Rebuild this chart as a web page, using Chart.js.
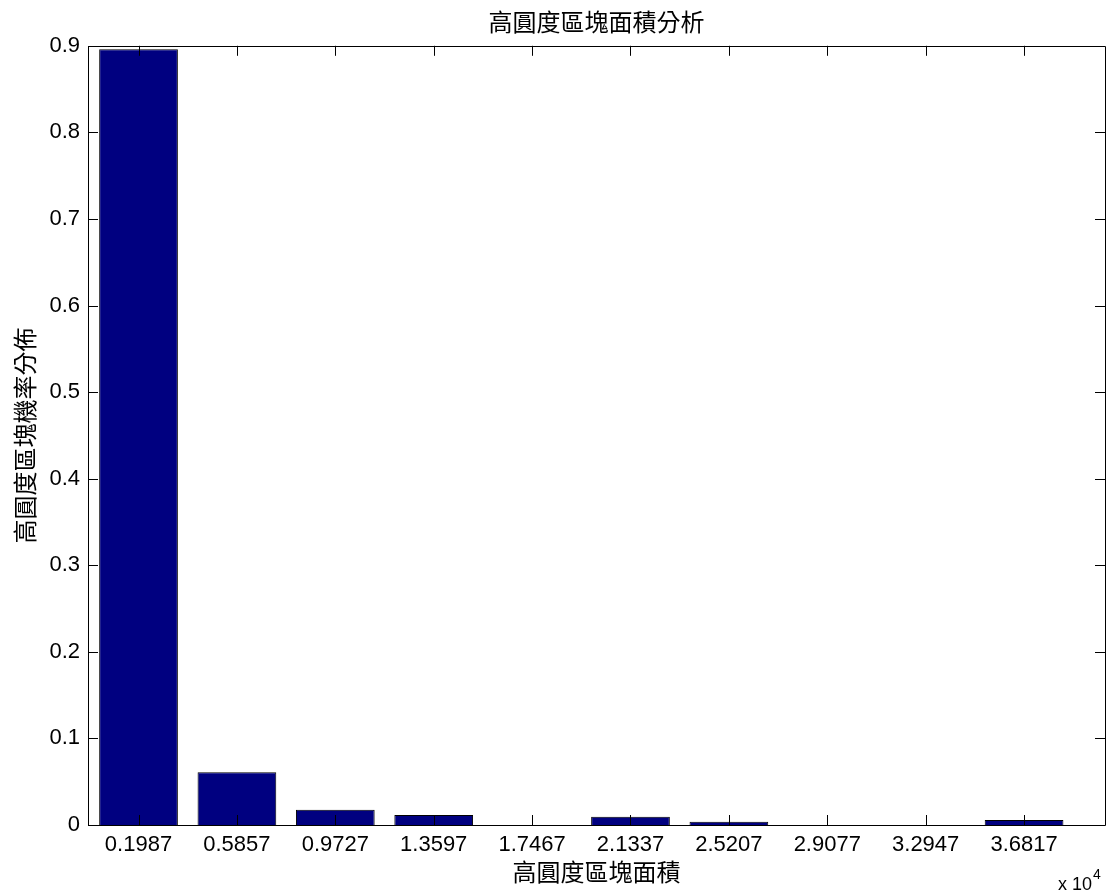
<!DOCTYPE html>
<html>
<head>
<meta charset="utf-8">
<script src="https://cdn.jsdelivr.net/npm/chart.js@4/dist/chart.umd.min.js"></script>
<style>
  html, body { margin: 0; padding: 0; background: #fff; }
  #wrap { width: 1112px; height: 894px; }
</style>
</head>
<body>
<div id="wrap"><canvas id="areaChart" width="1112" height="894"></canvas></div>
<script>
// Data (x in units of 10^4)
const binCenters = [0.1987, 0.5857, 0.9727, 1.3597, 1.7467, 2.1337, 2.5207, 2.9077, 3.2947, 3.6817];
const probValues = [0.896, 0.061, 0.0177, 0.0116, 0, 0.0096, 0.0038, 0, 0, 0.0058];
const yTicks = [0, 0.1, 0.2, 0.3, 0.4, 0.5, 0.6, 0.7, 0.8, 0.9];

const labelFont = "'Liberation Sans', 'Noto Sans CJK TC', sans-serif";
const cjkFont = "'Noto Sans CJK TC', 'Liberation Sans', sans-serif";

// Box round the axes with inward ticks, and the x 10^4 note
const boxPlugin = {
    id: "matlabBox",
    afterDraw(chart) {
        const c = chart.ctx;
        const a = chart.chartArea;
        const xs = chart.scales.x;
        const ys = chart.scales.y;
        c.save();
        c.strokeStyle = "#000";
        c.lineWidth = 1;
        c.beginPath();
        c.rect(Math.round(a.left) + 0.5, Math.round(a.top) + 0.5,
               Math.round(a.right - a.left), Math.round(a.bottom - a.top));
        binCenters.forEach(v => {
            let px = Math.round(xs.getPixelForValue(v)) + 0.5;
            c.moveTo(px, a.bottom); c.lineTo(px, a.bottom - 10);
            c.moveTo(px, a.top); c.lineTo(px, a.top + 10);
        });
        yTicks.forEach(v => {
            let py = Math.round(ys.getPixelForValue(v)) + 0.5;
            c.moveTo(a.left, py); c.lineTo(a.left + 10, py);
            c.moveTo(a.right, py); c.lineTo(a.right - 10, py);
        });
        c.stroke();

        c.fillStyle = "#000";
        c.textBaseline = "alphabetic";
        c.textAlign = "left";
        c.font = "18px " + labelFont;
        c.fillText("x 10", a.right - 47, 890);
        c.font = "14px " + labelFont;
        c.fillText("4", a.right - 12, 879);
        c.restore();
    }
};

const ctx = document.getElementById("areaChart").getContext("2d");

const areaChart = new Chart(ctx, {
    type: "bar",
    data: {
        datasets: [{
            data: binCenters.map((x, i) => ({ x: x, y: probValues[i] })),
            backgroundColor: "#000080",
            borderColor: "#000000",
            borderWidth: 1,
            categoryPercentage: 1,
            barPercentage: 0.8
        }]
    },
    options: {
        responsive: false,
        animation: false,
        layout: { padding: { left: 0, right: 7, top: 0, bottom: 0 } },
        plugins: {
            legend: { display: false },
            tooltip: { enabled: false },
            title: {
                display: true,
                fullSize: false,
                text: "高圓度區塊面積分析",
                color: "#000",
                font: { family: cjkFont, size: 24, weight: "normal" },
                padding: { top: 7, bottom: 10 }
            }
        },
        scales: {
            x: {
                type: "linear",
                min: 0,
                max: 4,
                offset: false,
                grid: { display: false, drawTicks: false },
                border: { display: false },
                afterBuildTicks: scale => {
                    scale.ticks = binCenters.map(v => ({ value: v }));
                },
                afterFit: scale => { scale.height = 69; },
                ticks: {
                    autoSkip: false,
                    maxRotation: 0,
                    padding: 7,
                    color: "#000",
                    font: { family: labelFont, size: 22 },
                    callback: v => v.toFixed(4)
                },
                title: {
                    display: true,
                    text: "高圓度區塊面積",
                    color: "#000",
                    font: { family: cjkFont, size: 24 },
                    padding: { top: 0, bottom: 8 }
                }
            },
            y: {
                min: 0,
                max: 0.9,
                grid: { display: false, drawTicks: false },
                border: { display: false },
                afterBuildTicks: scale => {
                    scale.ticks = yTicks.map(v => ({ value: v }));
                },
                afterFit: scale => { scale.width = 88; },
                ticks: {
                    padding: 8,
                    color: "#000",
                    font: { family: labelFont, size: 22 },
                    callback: v => String(+v.toFixed(1))
                },
                title: {
                    display: true,
                    text: "高圓度區塊機率分佈",
                    color: "#000",
                    font: { family: cjkFont, size: 24 },
                    padding: { top: 10, bottom: 0 }
                }
            }
        }
    },
    plugins: [boxPlugin]
});
</script>
</body>
</html>
